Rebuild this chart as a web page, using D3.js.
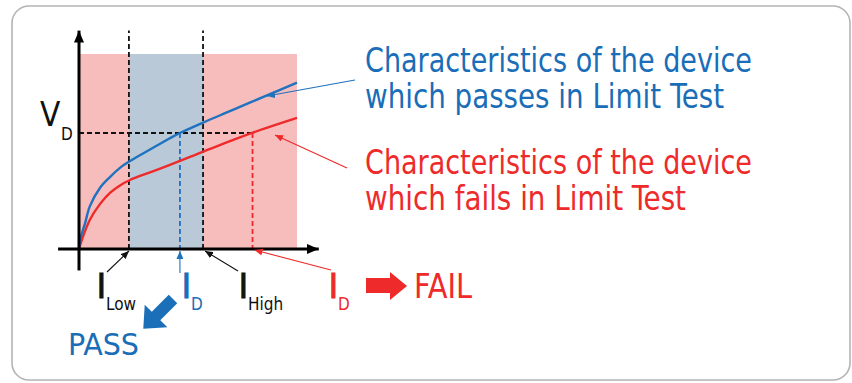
<!DOCTYPE html>
<html>
<head>
<meta charset="utf-8">
<script src="https://cdn.jsdelivr.net/npm/d3@7.9.0/dist/d3.min.js"></script>
<style>
  html, body { margin: 0; padding: 0; background: #fff; }
  svg text { font-family: "Liberation Sans Narrow", "DejaVu Sans Condensed", "Roboto", sans-serif; }
</style>
</head>
<body>
<svg id="chart" width="852" height="383"></svg>
<script>
// current (x) and voltage (y) of the two devices, in arbitrary units 0..100
const passCurrent = [0, 0.5, 2.8, 5.0, 9.6, 14.2, 18.8, 23.4, 32.6, 41.7, 46.3, 56.4, 70.6, 86.2, 100];
const passVoltage = [0, 4.6, 13.3, 22.0, 31.3, 36.9, 41.6, 45.1, 51.0, 56.8, 59.5, 64.6, 71.3, 78.8, 85.3];
const failCurrent = [0, 1.4, 5.0, 9.6, 14.2, 18.8, 23.4, 32.6, 41.7, 50.9, 60.1, 79.4, 100];
const failVoltage = [0, 5.0, 15.0, 23.0, 28.8, 32.6, 35.4, 39.3, 43.2, 47.2, 51.3, 59.5, 67.2];

// limits
const limitLow = 22.9;
const limitHigh = 56.9;
const forcedVoltage = 59.5;
const passId = 46.3;
const failId = 79.6;

const passColor = "#1f72bf";
const failColor = "#ee2a2a";
const textBlue = "#1a6db7";

const svg = d3.select("#chart");

// frame
svg.append("rect")
  .attr("x", 12).attr("y", 6)
  .attr("width", 838).attr("height", 374)
  .attr("rx", 17)
  .attr("fill", "none")
  .attr("stroke", "#b4b4b4")
  .attr("stroke-width", 1.6);

const x = d3.scaleLinear().domain([0, 100]).range([79, 297]);
const y = d3.scaleLinear().domain([0, 100]).range([249, 54]);

const defs = svg.append("defs");
function marker(id, color, w, h) {
  defs.append("marker")
    .attr("id", id)
    .attr("viewBox", "0 0 10 10")
    .attr("refX", 10).attr("refY", 5)
    .attr("markerWidth", w).attr("markerHeight", h)
    .attr("markerUnits", "userSpaceOnUse")
    .attr("orient", "auto")
    .attr("preserveAspectRatio", "none")
    .append("path")
    .attr("d", "M0,0 L10,5 L0,10 Z")
    .attr("fill", color);
}
marker("headBlack", "#111", 8, 7);
marker("headBlue", passColor, 8, 7);
marker("headRed", failColor, 8, 7);
marker("axisHead", "#000", 12, 10);

// regions: whole window fails, window between limits passes
svg.append("rect")
  .attr("x", x(0)).attr("y", y(100))
  .attr("width", x(100) - x(0)).attr("height", y(0) - y(100))
  .attr("fill", "#f7bcbc");
svg.append("rect")
  .attr("x", x(limitLow)).attr("y", y(100))
  .attr("width", x(limitHigh) - x(limitLow)).attr("height", y(0) - y(100))
  .attr("fill", "#b9c9d7");

// dashed guides
const dash = "5,3";
[limitLow, limitHigh].forEach(v => {
  svg.append("line")
    .attr("x1", x(v)).attr("x2", x(v))
    .attr("y1", y(0)).attr("y2", y(112))
    .attr("stroke", "#111").attr("stroke-width", 1.8)
    .attr("stroke-dasharray", dash);
});
svg.append("line")
  .attr("x1", x(0)).attr("x2", x(failId))
  .attr("y1", y(forcedVoltage)).attr("y2", y(forcedVoltage))
  .attr("stroke", "#111").attr("stroke-width", 1.8)
  .attr("stroke-dasharray", dash);
svg.append("line")
  .attr("x1", x(passId)).attr("x2", x(passId))
  .attr("y1", y(forcedVoltage)).attr("y2", y(0))
  .attr("stroke", passColor).attr("stroke-width", 1.8)
  .attr("stroke-dasharray", dash);
svg.append("line")
  .attr("x1", x(failId)).attr("x2", x(failId))
  .attr("y1", y(forcedVoltage)).attr("y2", y(0))
  .attr("stroke", failColor).attr("stroke-width", 1.8)
  .attr("stroke-dasharray", dash);

// curves
const line = d3.line()
  .x(d => x(d[0]))
  .y(d => y(d[1]))
  .curve(d3.curveCatmullRom.alpha(0.5));

svg.append("path")
  .datum(d3.zip(failCurrent, failVoltage))
  .attr("d", line)
  .attr("fill", "none")
  .attr("stroke", failColor)
  .attr("stroke-width", 2.4);
svg.append("path")
  .datum(d3.zip(passCurrent, passVoltage))
  .attr("d", line)
  .attr("fill", "none")
  .attr("stroke", passColor)
  .attr("stroke-width", 2.4);

// axes
svg.append("line")
  .attr("x1", x(-9.6)).attr("x2", x(110))
  .attr("y1", y(0)).attr("y2", y(0))
  .attr("stroke", "#000").attr("stroke-width", 3)
  .attr("marker-end", "url(#axisHead)");
svg.append("line")
  .attr("x1", x(0)).attr("x2", x(0))
  .attr("y1", y(-11)).attr("y2", y(112))
  .attr("stroke", "#000").attr("stroke-width", 3)
  .attr("marker-end", "url(#axisHead)");

// leader arrows
function leader(x1, y1, x2, y2, color, head) {
  svg.append("line")
    .attr("x1", x1).attr("y1", y1).attr("x2", x2).attr("y2", y2)
    .attr("stroke", color).attr("stroke-width", 1.1)
    .attr("marker-end", `url(#${head})`);
}
leader(107, 272, x(limitLow), y(0) + 2, "#111", "headBlack");
leader(x(passId), 273, x(passId), y(0) + 2, passColor, "headBlue");
leader(238, 271, x(limitHigh) + 2, y(0) + 2, "#111", "headBlack");
leader(331, 270, x(failId) + 2, y(0) + 1, failColor, "headRed");
leader(355, 80, 267, 96, passColor, "headBlue");
leader(347, 168, 275, 135, failColor, "headRed");

// axis / limit labels
function sub(xPos, main, subText, color) {
  svg.append("text").attr("x", xPos).attr("y", 298)
    .attr("font-size", 33).attr("fill", color)
    .attr("stroke", color).attr("stroke-width", 1.2)
    .text(main);
  svg.append("text").attr("x", xPos + 9).attr("y", 310)
    .attr("font-size", 17).attr("fill", color).text(subText);
}
svg.append("text").attr("x", 40).attr("y", 126)
  .attr("font-size", 33).attr("fill", "#111").text("V");
svg.append("text").attr("x", 61).attr("y", 140)
  .attr("font-size", 17).attr("fill", "#111").text("D");
sub(97, "I", "Low", "#111");
sub(182, "I", "D", textBlue);
sub(239, "I", "High", "#111");
sub(329, "I", "D", failColor);

// descriptions
const descr = [
  { text: "Characteristics of the device", y: 72, w: 387, color: textBlue },
  { text: "which passes in Limit Test", y: 108, w: 359, color: textBlue },
  { text: "Characteristics of the device", y: 174, w: 387, color: failColor },
  { text: "which fails in Limit Test", y: 210, w: 321, color: failColor }
];
svg.selectAll("text.descr")
  .data(descr)
  .enter()
  .append("text")
  .attr("class", "descr")
  .attr("x", 365)
  .attr("y", d => d.y)
  .attr("font-size", 33)
  .attr("fill", d => d.color)
  .attr("textLength", d => d.w)
  .attr("lengthAdjust", "spacingAndGlyphs")
  .text(d => d.text);

// FAIL arrow + text
svg.append("path")
  .attr("d", "M366,278 L390,278 L390,272 L407,286 L390,300 L390,293 L366,293 Z")
  .attr("fill", failColor);
svg.append("text").attr("x", 414).attr("y", 298)
  .attr("font-size", 34).attr("fill", failColor)
  .attr("textLength", 58).attr("lengthAdjust", "spacingAndGlyphs")
  .text("FAIL");

// PASS arrow + text
svg.append("path")
  .attr("d", "M0,-6 L24,-6 L24,-16 L42,0 L24,16 L24,6 L0,6 Z")
  .attr("transform", "translate(173,299) rotate(135)")
  .attr("fill", "#1a6fb8");
svg.append("text").attr("x", 68).attr("y", 355)
  .attr("font-size", 31).attr("fill", textBlue)
  .attr("textLength", 71).attr("lengthAdjust", "spacingAndGlyphs")
  .text("PASS");
</script>
</body>
</html>
